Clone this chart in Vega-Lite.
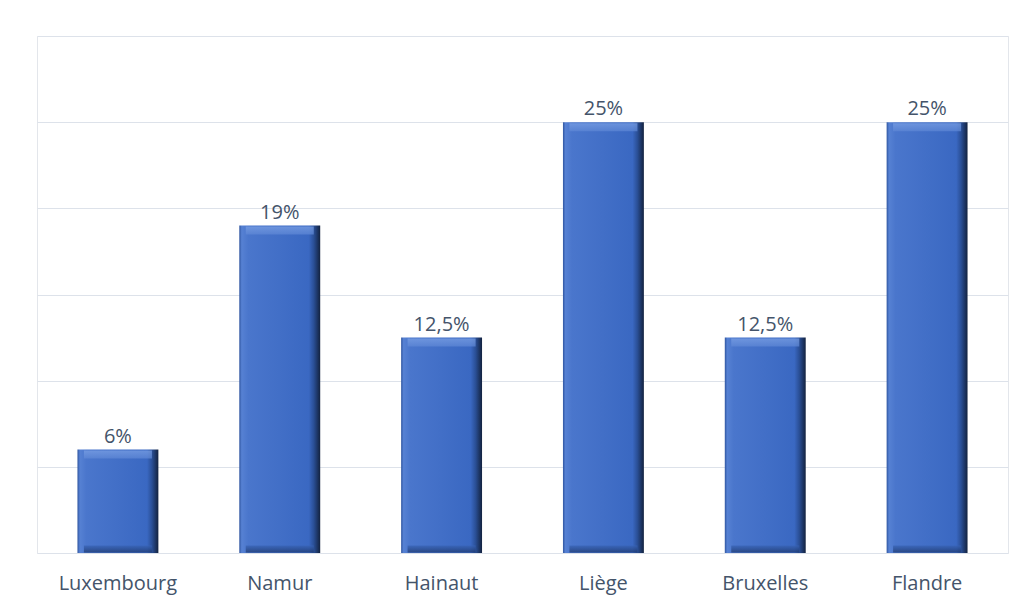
{
  "$schema": "https://vega.github.io/schema/vega-lite/v6.json",
  "width": 971,
  "height": 517,
  "autosize": {"type": "none"},
  "padding": {"left": 37, "top": 36, "right": 24, "bottom": 61},
  "background": "white",
  "config": {
    "view": {"stroke": "#e3e6eb", "strokeWidth": 1},
    "font": "Open Sans"
  },
  "data": {
    "values": [
      {"region": "Luxembourg", "share": 6, "label": "6%"},
      {"region": "Namur", "share": 19, "label": "19%"},
      {"region": "Hainaut", "share": 12.5, "label": "12,5%"},
      {"region": "Liège", "share": 25, "label": "25%"},
      {"region": "Bruxelles", "share": 12.5, "label": "12,5%"},
      {"region": "Flandre", "share": 25, "label": "25%"}
    ]
  },
  "encoding": {
    "x": {
      "field": "region",
      "type": "nominal",
      "sort": null,
      "scale": {"paddingInner": 0.5, "paddingOuter": 0.25},
      "axis": {
        "title": null,
        "labelAngle": 0,
        "domain": false,
        "ticks": false,
        "labelPadding": 20,
        "labelFontSize": 20,
        "labelColor": "#44546a",
        "labelFont": "Open Sans"
      }
    },
    "y": {
      "field": "share",
      "type": "quantitative",
      "scale": {"domain": [0, 30]},
      "axis": {
        "title": null,
        "labels": false,
        "ticks": false,
        "domain": false,
        "values": [0, 5, 10, 15, 20, 25, 30],
        "gridColor": "#dde2ea",
        "gridWidth": 1.2
      }
    }
  },
  "layer": [
    {
      "mark": {
        "type": "bar",
        "color": {
          "gradient": "linear",
          "x1": 0, "y1": 0, "x2": 1, "y2": 0,
          "stops": [
            {"offset": 0, "color": "#2f55a0"},
            {"offset": 0.03, "color": "#5681d3"},
            {"offset": 0.11, "color": "#4a76cc"},
            {"offset": 0.86, "color": "#3a68c2"},
            {"offset": 0.92, "color": "#2a4f96"},
            {"offset": 1, "color": "#13223f"}
          ]
        }
      }
    },
    {
      "mark": {
        "type": "tick",
        "orient": "horizontal",
        "thickness": 8,
        "size": 68,
        "yOffset": 5,
        "color": {
          "gradient": "linear",
          "x1": 0, "y1": 0, "x2": 0, "y2": 1,
          "stops": [
            {"offset": 0, "color": "#7ea3e6"},
            {"offset": 1, "color": "#5f88d6"}
          ]
        }
      }
    },
    {
      "mark": {
        "type": "tick",
        "orient": "horizontal",
        "thickness": 7,
        "size": 68,
        "yOffset": -4,
        "color": {
          "gradient": "linear",
          "x1": 0, "y1": 0, "x2": 0, "y2": 1,
          "stops": [
            {"offset": 0, "color": "#3762b4"},
            {"offset": 1, "color": "#1d3566"}
          ]
        }
      },
      "encoding": {"y": {"datum": 0, "type": "quantitative"}}
    },
    {
      "mark": {
        "type": "text",
        "baseline": "bottom",
        "dy": -3,
        "fontSize": 20,
        "color": "#44546a",
        "font": "Open Sans"
      },
      "encoding": {"text": {"field": "label"}}
    }
  ]
}
